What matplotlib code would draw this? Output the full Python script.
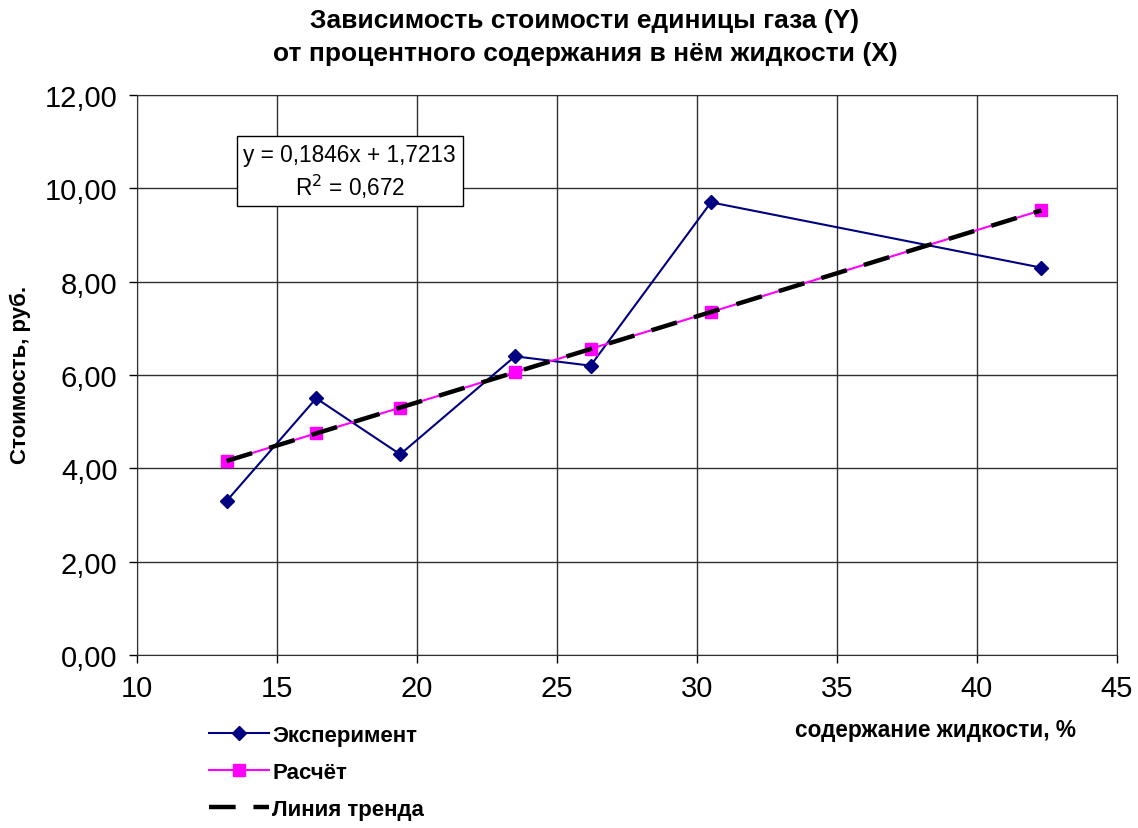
import numpy as np
import matplotlib
matplotlib.use('Agg')
import matplotlib.pyplot as plt
from matplotlib.ticker import FuncFormatter, MultipleLocator

plt.rcParams['font.family'] = ['Liberation Sans', 'DejaVu Sans']

# данные
x_exp = [13.2, 16.4, 19.4, 23.5, 26.2, 30.5, 42.3]
y_exp = [3.3, 5.5, 4.3, 6.4, 6.2, 9.7, 8.3]
y_calc = [4.16, 4.75, 5.30, 6.06, 6.56, 7.35, 9.53]
eq_text = 'y = 0,1846x + 1,7213\nR$^2$ = 0,672'

fig = plt.figure(figsize=(11.38, 8.29), dpi=100)
ax = fig.add_axes([0.1204, 0.2087, 0.8611, 0.6755])

ax.plot(x_exp, y_exp, color='#000080', lw=1.5, marker='D', markersize=7,
        label='Эксперимент', zorder=3)
ax.plot(x_exp, y_calc, color='#ff00ff', lw=1.5, marker='s', markersize=9,
        label='Расчёт', zorder=4)

# линия тренда
k, b = np.polyfit(x_exp, y_exp, 1)
xt = np.array([min(x_exp), max(x_exp)])
ax.plot(xt, k * xt + b, color='black', lw=3.2, linestyle=(0, (6, 4)),
        label='Линия тренда', zorder=5)

ax.set_xlim(10, 45)
ax.set_ylim(0, 12)
ax.xaxis.set_major_locator(MultipleLocator(5))
ax.yaxis.set_major_locator(MultipleLocator(2))
ax.yaxis.set_major_formatter(FuncFormatter(lambda v, p: f'{v:.2f}'.replace('.', ',')))
ax.tick_params(direction='out', length=6, width=1, labelsize=21, pad=8)
ax.grid(True, color='#303030', lw=1)
ax.set_axisbelow(True)
for s in ax.spines.values():
    s.set_color('#303030')

ax.text(0.217, 0.864, eq_text, transform=ax.transAxes, ha='center', va='center',
        fontsize=16.3, linespacing=1.25,
        bbox=dict(boxstyle='square,pad=0.3', fc='white', ec='black', lw=1))

fig.text(0.514, 0.955, 'Зависимость стоимости единицы газа (Y)\nот процентного содержания в нём жидкости (X)',
         ha='center', va='center', fontsize=19, fontweight='bold', linespacing=1.45)
fig.text(0.018, 0.548, 'Стоимость, руб.', rotation=90, ha='center', va='center',
         fontsize=16, fontweight='bold')
fig.text(0.822, 0.119, 'содержание жидкости, %', ha='center', va='center',
         fontsize=16.3, fontweight='bold')

fig.legend(loc='upper left', bbox_to_anchor=(0.174, 0.138), frameon=False,
           prop={'weight': 'bold', 'size': 16}, handlelength=2.7,
           handletextpad=0.15, labelspacing=0.72, borderpad=0)

plt.savefig('out.png', dpi=100)
